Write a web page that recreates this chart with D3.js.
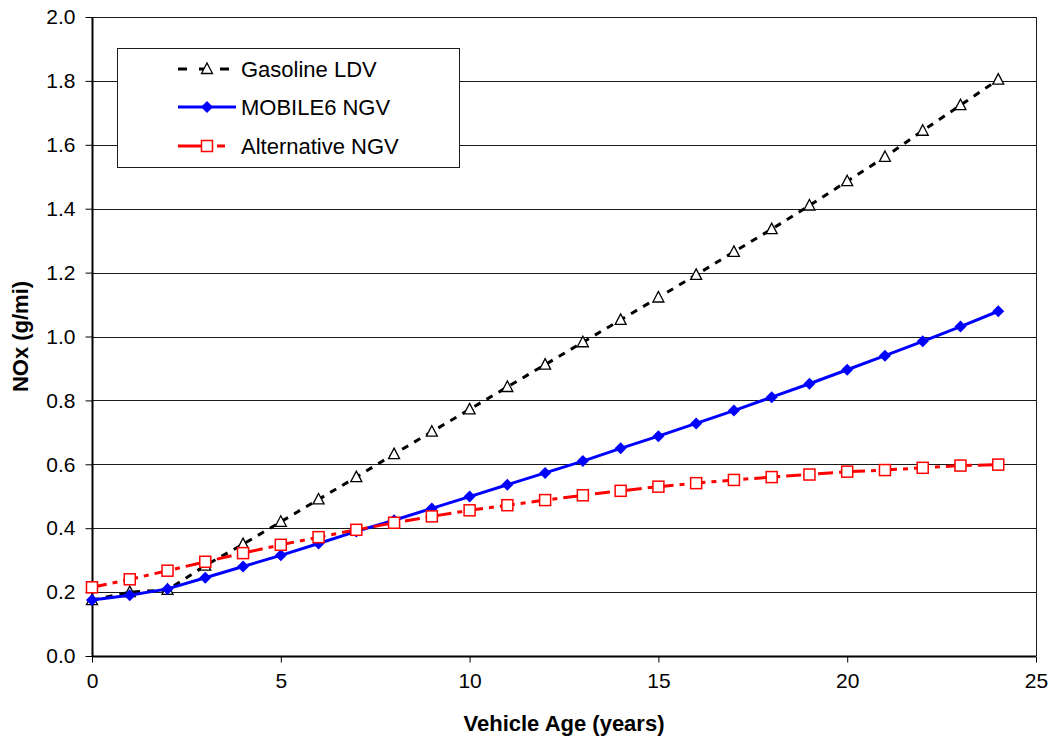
<!DOCTYPE html>
<html lang="en">
<head>
    <meta charset="UTF-8">
    <title>NOx by vehicle age</title>
    <script src="https://d3js.org/d3.v7.min.js"></script>
    <style>
        html, body { margin: 0; padding: 0; background: white; }
        svg { display: block; font-family: 'Liberation Sans', Arial, sans-serif; }
    </style>
</head>
<body>
<div id="chart"></div>
<script>
    // vehicle age (years)
    const ages = d3.range(0, 25);
    const gasolineLDV = [0.175, 0.20, 0.207, 0.283, 0.35, 0.42, 0.49, 0.56, 0.632, 0.702, 0.772, 0.842, 0.912, 0.982, 1.052, 1.122, 1.193, 1.265, 1.336, 1.41, 1.486, 1.562, 1.644, 1.724, 1.804];
    const mobile6NGV = [0.175, 0.19, 0.21, 0.245, 0.28, 0.315, 0.352, 0.39, 0.425, 0.462, 0.499, 0.536, 0.573, 0.61, 0.65, 0.688, 0.728, 0.768, 0.81, 0.852, 0.896, 0.94, 0.985, 1.031, 1.079];
    const alternativeNGV = [0.215, 0.24, 0.267, 0.295, 0.322, 0.348, 0.372, 0.395, 0.417, 0.437, 0.456, 0.472, 0.488, 0.503, 0.517, 0.53, 0.541, 0.551, 0.56, 0.568, 0.577, 0.582, 0.589, 0.596, 0.599];
    const xTicks = [0, 5, 10, 15, 20, 25];
    const yTicks = [0, 0.2, 0.4, 0.6, 0.8, 1.0, 1.2, 1.4, 1.6, 1.8, 2.0];

    const series = [
        { name: "Gasoline LDV", values: gasolineLDV, color: "#000", dash: "7,7", legendDash: "9,12", marker: "triangle" },
        { name: "MOBILE6 NGV", values: mobile6NGV, color: "#0000ff", dash: null, legendDash: null, marker: "diamond" },
        { name: "Alternative NGV", values: alternativeNGV, color: "#ff0000", dash: "15,6,5,6", legendDash: "29,10,8,30", marker: "square" }
    ];

    const w = 1055, h = 747;
    const margin = { left: 92, right: 19, top: 17, bottom: 91 };

    const svg = d3.select("#chart").append("svg")
        .attr("width", w)
        .attr("height", h);

    const x = d3.scaleLinear().domain([0, 25]).range([margin.left, w - margin.right]);
    const y = d3.scaleLinear().domain([0, 2]).range([h - margin.bottom, margin.top]);

    // gridlines
    svg.append("g")
        .selectAll("line")
        .data(yTicks.slice(1))
        .enter()
        .append("line")
        .attr("x1", x(0))
        .attr("x2", x(25))
        .attr("y1", d => Math.round(y(d)) + 0.5)
        .attr("y2", d => Math.round(y(d)) + 0.5)
        .attr("stroke", "#1a1a1a")
        .attr("stroke-width", 1);

    // right border of the plot area
    svg.append("line")
        .attr("x1", Math.round(x(25)) + 0.5)
        .attr("x2", Math.round(x(25)) + 0.5)
        .attr("y1", y(2))
        .attr("y2", y(0))
        .attr("stroke", "#1a1a1a");

    // axes
    const xAxis = d3.axisBottom(x).tickValues(xTicks).tickSize(6).tickPadding(11).tickFormat(d3.format("d"));
    const yAxis = d3.axisLeft(y).tickValues(yTicks).tickSize(7).tickPadding(10).tickFormat(d3.format(".1f"));

    const gx = svg.append("g")
        .attr("transform", `translate(0,${Math.round(y(0)) + 0.5})`)
        .call(xAxis);
    const gy = svg.append("g")
        .attr("transform", `translate(${Math.round(x(0)) + 0.5},0)`)
        .call(yAxis);

    [gx, gy].forEach(g => {
        g.select(".domain").attr("stroke", "#000").attr("stroke-width", 2);
        g.selectAll(".tick line").attr("stroke", "#000");
        g.selectAll(".tick text").attr("font-size", "21px").attr("fill", "#000")
            .attr("font-family", "'Liberation Sans', Arial, sans-serif");
    });
    gx.select(".domain").attr("d", `M${x(0)},0H${x(25)}`);
    gy.select(".domain").attr("d", `M0,${y(0)}V${y(2)}`);

    // axis titles
    svg.append("text")
        .attr("x", (x(0) + x(25)) / 2)
        .attr("y", 731)
        .attr("text-anchor", "middle")
        .attr("font-size", "22px")
        .attr("font-weight", "bold")
        .text("Vehicle Age (years)");

    svg.append("text")
        .attr("transform", `translate(28,${(y(0) + y(2)) / 2}) rotate(-90)`)
        .attr("text-anchor", "middle")
        .attr("font-size", "22px")
        .attr("font-weight", "bold")
        .text("NOx (g/mi)");

    function drawMarker(g, type, color, cx, cy) {
        if (type === "triangle") {
            g.append("path")
                .attr("d", `M${cx},${cy - 6}L${cx + 5.5},${cy + 4.5}L${cx - 5.5},${cy + 4.5}Z`)
                .attr("fill", "white")
                .attr("stroke", color)
                .attr("stroke-width", 1.3);
        } else if (type === "diamond") {
            g.append("path")
                .attr("d", `M${cx},${cy - 6}L${cx + 6},${cy}L${cx},${cy + 6}L${cx - 6},${cy}Z`)
                .attr("fill", color);
        } else {
            g.append("rect")
                .attr("x", cx - 5.5)
                .attr("y", cy - 5.5)
                .attr("width", 11)
                .attr("height", 11)
                .attr("fill", "white")
                .attr("stroke", color)
                .attr("stroke-width", 1.5);
        }
    }

    const line = d3.line()
        .x((d, i) => x(ages[i]))
        .y(d => y(d));

    series.forEach(s => {
        const g = svg.append("g");
        g.append("path")
            .datum(s.values)
            .attr("d", line)
            .attr("fill", "none")
            .attr("stroke", s.color)
            .attr("stroke-width", 3)
            .attr("stroke-dasharray", s.dash);
        s.values.forEach((v, i) => drawMarker(g, s.marker, s.color, x(ages[i]), y(v)));
    });

    // legend
    const legend = svg.append("g");
    legend.append("rect")
        .attr("x", 117.5)
        .attr("y", 48.5)
        .attr("width", 342)
        .attr("height", 119)
        .attr("fill", "white")
        .attr("stroke", "#1a1a1a")
        .attr("stroke-width", 1);

    const legendY = [69, 107, 146];
    series.forEach((s, i) => {
        const ly = legendY[i];
        legend.append("line")
            .attr("x1", 178)
            .attr("x2", 236)
            .attr("y1", ly)
            .attr("y2", ly)
            .attr("stroke", s.color)
            .attr("stroke-width", 3)
            .attr("stroke-dasharray", s.legendDash);
        drawMarker(legend, s.marker, s.color, 207, ly);
        legend.append("text")
            .attr("x", 241)
            .attr("y", ly + 8)
            .attr("font-size", "22px")
            .text(s.name);
    });
</script>
</body>
</html>
